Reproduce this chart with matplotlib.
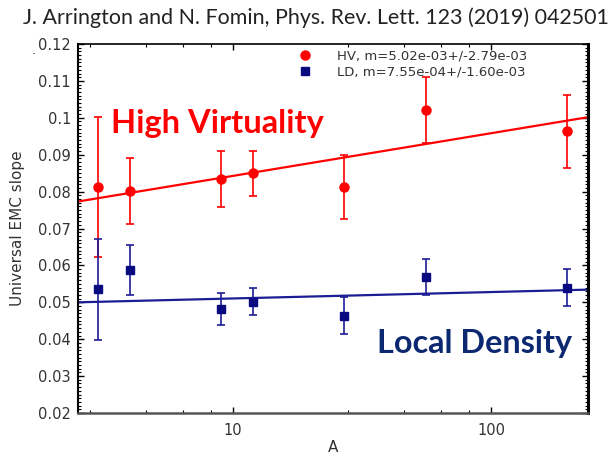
import numpy as np
import matplotlib
matplotlib.use("Agg")
import matplotlib.pyplot as plt
from matplotlib.lines import Line2D
from matplotlib.ticker import FixedLocator, FormatStrFormatter, MultipleLocator, NullFormatter

# Mass number of each nucleus
A = [3, 4, 9, 12, 27, 56, 197]

# High-virtuality extraction of the universal EMC slope
hv = [0.0812, 0.0801, 0.0834, 0.0850, 0.0813, 0.1021, 0.0964]
hv_err = [0.0189, 0.0090, 0.0076, 0.0061, 0.0087, 0.0090, 0.0099]

# Local-density extraction
ld = [0.0535, 0.0588, 0.0482, 0.0502, 0.0464, 0.0569, 0.0540]
ld_err = [0.0136, 0.0067, 0.0044, 0.0037, 0.0050, 0.0048, 0.0051]

# Linear fits in ln(A): value = b + m*ln(A)
hv_m, hv_b = 5.02e-3, 0.0727
ld_m, ld_b = 7.55e-4, 0.0493
hv_label = "HV, m=5.02e-03+/-2.79e-03"
ld_label = "LD, m=7.55e-04+/-1.60e-03"

red = "#ff0000"
navy = "#0a0a80"
navy_line = "#1c1c96"

fig = plt.figure(figsize=(6.15, 4.57), dpi=100)
ax = fig.add_axes([0.1268, 0.0963, 0.8293, 0.8074])

ax.set_xscale("log")
ax.set_xlim(2.506, 237.7)
ax.set_ylim(0.02, 0.12)

a_fit = np.logspace(np.log10(2.506), np.log10(237.7), 200)
ax.plot(a_fit, hv_b + hv_m * np.log(a_fit), color=red, lw=1.6, zorder=2)
ax.plot(a_fit, ld_b + ld_m * np.log(a_fit), color=navy_line, lw=1.6, zorder=2)

ax.errorbar(A, hv, yerr=hv_err, fmt="o", color=red, ms=6.5, elinewidth=1.2,
            capsize=2.7, capthick=1.2, zorder=3)
ax.errorbar(A, ld, yerr=ld_err, fmt="s", color=navy, ecolor=navy_line, ms=6,
            elinewidth=1.2, capsize=2.7, capthick=1.2, zorder=3)

# ticks
ax.xaxis.set_major_locator(FixedLocator([10, 100]))
ax.xaxis.set_minor_locator(FixedLocator([2.8, 4.6, 6.4, 8.2, 28, 46, 64, 82]))
ax.xaxis.set_major_formatter(FormatStrFormatter("%g"))
ax.xaxis.set_minor_formatter(NullFormatter())
ax.yaxis.set_major_locator(MultipleLocator(0.01))
ax.yaxis.set_minor_locator(MultipleLocator(0.001))
ax.yaxis.set_major_formatter(FormatStrFormatter("%g"))
ax.tick_params(which="both", direction="in", top=True, right=True,
               labelsize=10.5, labelcolor="#333333", color="black")
ax.tick_params(which="major", length=4.5, width=1.0)
ax.tick_params(which="minor", length=2.2, width=0.8)
ax.tick_params(axis="y", pad=5)
ax.tick_params(axis="x", pad=7)

ax.spines["left"].set_linewidth(1.5)
ax.spines["top"].set_linewidth(1.2)
ax.spines["right"].set_linewidth(2.2)
ax.spines["bottom"].set_linewidth(1.8)
ax.spines["bottom"].set_color("#555555")

ax.set_xlabel("A", fontsize=11, color="#333333")
ax.set_ylabel("Universal EMC slope", fontsize=11, color="#333333")
ax.xaxis.set_label_coords(0.5, -0.072)
ax.yaxis.set_label_coords(-0.104, 0.5)

handles = [Line2D([], [], marker="o", ls="none", color=red, ms=6.5),
           Line2D([], [], marker="s", ls="none", color=navy, ms=5.5)]
leg = ax.legend(handles, [hv_label, ld_label], loc="upper left",
                bbox_to_anchor=(0.432, 0.985), frameon=False,
                fontsize=9.5, handlelength=1.0, handletextpad=1.9,
                labelspacing=0.22, borderpad=0, borderaxespad=0)
for t in leg.get_texts():
    t.set_color("#333333")

ax.text(0.064, 0.758, "High Virtuality", transform=ax.transAxes, fontsize=23.5,
        fontweight="bold", family="Lato", color=red)
ax.text(0.586, 0.163, "Local Density", transform=ax.transAxes, fontsize=23.3,
        fontweight="bold", family="Lato", color="#0b2870")

fig.text(23 / 615, 1 - 17.5 / 457,
         "J. Arrington and N. Fomin, Phys. Rev. Lett. 123 (2019) 042501",
         fontsize=15.4, family="Lato", color="#222222", va="center", ha="left")
fig.text(34 / 615, 1 - 54 / 457, ".", fontsize=9, color="#222222",
         ha="center", va="baseline")

fig.savefig("out.png", dpi=100)
